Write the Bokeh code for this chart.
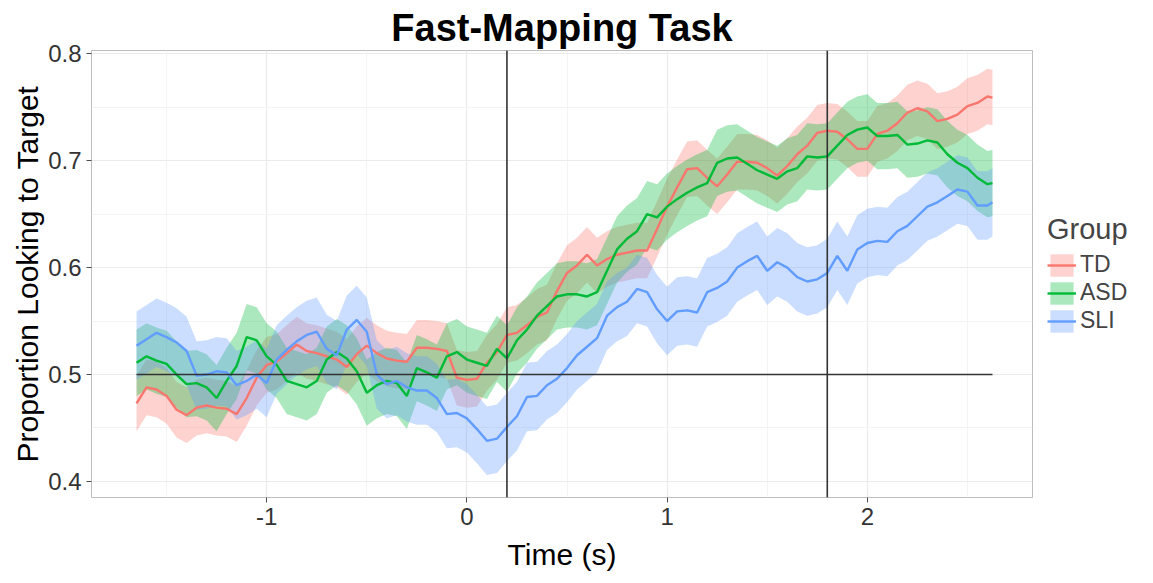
import numpy as np
from bokeh.plotting import figure
from bokeh.layouts import row
from bokeh.models import Legend, LegendItem, FixedTicker, Range1d, Span, Spacer
from bokeh.embed import file_html
from bokeh.resources import INLINE

# ---------------- data ----------------
time_s = np.append(np.round(np.arange(-1.65, 2.601, 0.05), 3), 2.625)

td = [0.473, 0.488, 0.486, 0.480, 0.467, 0.462, 0.469, 0.471, 0.469, 0.468, 0.463, 0.478, 0.497, 0.509, 0.512, 0.520, 0.528,
      0.522, 0.520, 0.517, 0.514, 0.507, 0.519, 0.527, 0.520, 0.515, 0.513, 0.512, 0.525, 0.525, 0.524, 0.522, 0.497, 0.495,
      0.496, 0.511, 0.521, 0.537, 0.539, 0.546, 0.554, 0.558, 0.578, 0.595, 0.602, 0.612, 0.602, 0.608, 0.612, 0.614, 0.616, 0.616, 0.636, 0.657,
      0.675, 0.692, 0.693, 0.684, 0.676, 0.687, 0.699, 0.699, 0.698, 0.693, 0.686, 0.695, 0.706, 0.714, 0.726,
      0.728, 0.727, 0.720, 0.711, 0.711, 0.725, 0.728, 0.735, 0.745, 0.749, 0.746, 0.737, 0.739, 0.743, 0.751, 0.754, 0.760, 0.759]

asd = [0.511, 0.517, 0.513, 0.510, 0.500, 0.491, 0.492, 0.488, 0.478, 0.494, 0.508, 0.535, 0.532, 0.517, 0.509, 0.494, 0.491,
       0.488, 0.494, 0.514, 0.521, 0.515, 0.503, 0.483, 0.490, 0.494, 0.492, 0.480, 0.506, 0.502, 0.497, 0.517, 0.521, 0.514,
       0.511, 0.508, 0.524, 0.515, 0.532, 0.542, 0.555, 0.564, 0.573, 0.575, 0.575, 0.573, 0.577, 0.597, 0.617, 0.627, 0.634, 0.650, 0.647, 0.657,
       0.664, 0.670, 0.675, 0.679, 0.698, 0.702, 0.703, 0.697, 0.691, 0.687, 0.683, 0.690, 0.693, 0.704, 0.703,
       0.704, 0.714, 0.724, 0.729, 0.731, 0.723, 0.723, 0.724, 0.715, 0.716, 0.719, 0.717, 0.706, 0.698, 0.693, 0.684, 0.678, 0.679]

sli = [0.527, 0.533, 0.539, 0.535, 0.530, 0.522, 0.499, 0.500, 0.503, 0.502, 0.490, 0.494, 0.500, 0.492, 0.514, 0.523, 0.531,
       0.537, 0.540, 0.524, 0.518, 0.542, 0.551, 0.540, 0.500, 0.491, 0.494, 0.488, 0.485, 0.485, 0.478, 0.463, 0.464, 0.459,
       0.449, 0.438, 0.440, 0.451, 0.461, 0.479, 0.480, 0.490, 0.496, 0.506, 0.518, 0.526, 0.534, 0.555, 0.563, 0.568, 0.580, 0.577, 0.561, 0.550,
       0.559, 0.560, 0.558, 0.577, 0.581, 0.587, 0.600, 0.606, 0.611, 0.597, 0.605, 0.600, 0.591, 0.587, 0.589,
       0.595, 0.611, 0.597, 0.617, 0.623, 0.625, 0.624, 0.634, 0.639, 0.648, 0.657, 0.661, 0.667, 0.673, 0.671, 0.658, 0.658, 0.661]

se_td = 0.026
se_asd = 0.031
se_sli = 0.032

groups = ["TD", "ASD", "SLI"]
series = [td, asd, sli]
ses = [se_td, se_asd, se_sli]
colors = ["#F8766D", "#00BA38", "#619CFF"]

chance = 0.5
window_marks = [0.2, 1.8]

x_ticks = [-1, 0, 1, 2]
x_minor = [-1.5, -0.5, 0.5, 1.5, 2.5]
y_ticks = [0.4, 0.5, 0.6, 0.7, 0.8]
y_minor = [0.45, 0.55, 0.65, 0.75]

FONT = "Liberation Sans"

# ---------------- figure ----------------
p = figure(frame_width=941, frame_height=447, output_backend="svg", toolbar_location=None,
           x_range=Range1d(-1.875, 2.825), y_range=Range1d(0.385, 0.803),
           title="Fast-Mapping Task",
           x_axis_label="Time (s)", y_axis_label="Proportion Looking to Target",
           min_border_left=70, min_border_right=100, min_border_top=50, min_border_bottom=70)

p.background_fill_color = "white"
p.border_fill_color = "white"
p.outline_line_color = "#BDBDBD"
p.outline_line_width = 1

p.title.text_font = FONT
p.title.text_font_size = "38px"
p.title.text_font_style = "bold"
p.title.align = "center"
p.title.text_color = "black"
p.title.standoff = 4

bands = []
lines = []
for vals, se, col in zip(series, ses, colors):
    v = np.array(vals)
    b = p.varea(x=time_s, y1=v - se, y2=v + se, fill_color=col, fill_alpha=0.33)
    bands.append(b)
for vals, col in zip(series, colors):
    l = p.line(x=time_s, y=np.array(vals), line_color=col, line_width=2.4)
    lines.append(l)

# reference lines
p.line(x=[time_s[0], time_s[-1]], y=[chance, chance], line_color="#333333", line_width=1.6)
for m in window_marks:
    p.add_layout(Span(location=m, dimension="height", line_color="#333333", line_width=1.6))

# axes
p.xaxis.ticker = FixedTicker(ticks=x_ticks, minor_ticks=x_minor)
p.yaxis.ticker = FixedTicker(ticks=y_ticks, minor_ticks=y_minor)
p.xaxis.major_label_overrides = {t: str(t) for t in x_ticks}
for ax in (p.xaxis, p.yaxis):
    ax.axis_line_color = None
    ax.major_tick_line_color = "#4D4D4D"
    ax.major_tick_in = 0
    ax.major_tick_out = 5
    ax.minor_tick_line_color = None
    ax.major_label_text_font = FONT
    ax.major_label_text_font_size = "24px"
    ax.major_label_text_color = "#333333"
    ax.axis_label_text_font = FONT
    ax.axis_label_text_font_size = "30px"
    ax.axis_label_text_font_style = "normal"
    ax.axis_label_text_color = "black"
p.yaxis.axis_label_standoff = 1
p.xaxis.axis_label_standoff = 10
p.xaxis.major_label_standoff = 5

for g in (p.xgrid, p.ygrid):
    g.grid_line_color = "#EBEBEB"
    g.grid_line_width = 1.2
    g.minor_grid_line_color = "#F4F4F4"
    g.minor_grid_line_width = 1

# legend in the right-hand panel
items = [LegendItem(label=g, renderers=[b, l]) for g, b, l in zip(groups, bands, lines)]
legend = Legend(items=items, location="center_left", title="Group")
legend.title_text_font = FONT
legend.title_text_font_size = "29px"
legend.title_text_font_style = "normal"
legend.title_standoff = 5
legend.label_text_font = FONT
legend.label_text_font_size = "23px"
legend.glyph_width = 29
legend.glyph_height = 28
legend.label_height = 28
legend.label_standoff = 4
legend.spacing = 0
legend.padding = 0
legend.margin = 15
legend.border_line_color = None
legend.background_fill_alpha = 0
p.add_layout(legend, "right")

layout = row(Spacer(width=8, height=10), p)
open("out.html", "w").write(file_html(layout, INLINE))
